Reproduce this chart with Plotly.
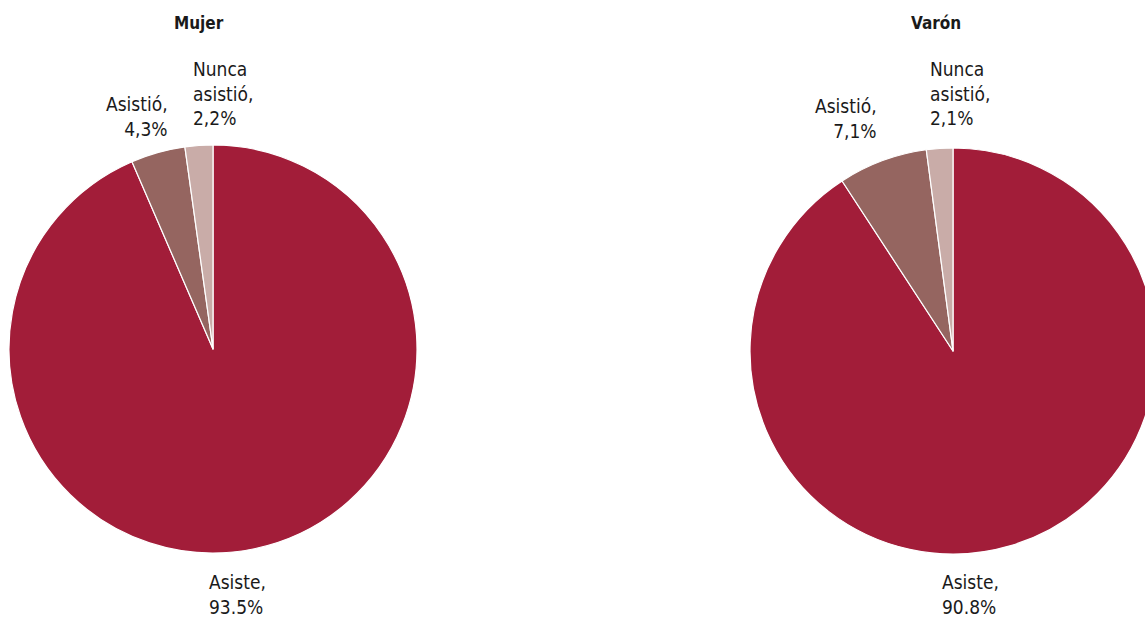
import plotly.graph_objects as go

# ---- data ----
categories = ["Asiste", "Asistió", "Nunca asistió"]
mujer_values = [93.5, 4.3, 2.2]
varon_values = [90.8, 7.1, 2.1]
mujer_labels = ["Asiste,<br>93.5%", "Asistió,<br>4,3%", "Nunca<br>asistió,<br>2,2%"]
varon_labels = ["Asiste,<br>90.8%", "Asistió,<br>7,1%", "Nunca<br>asistió,<br>2,1%"]
titles = ["Mujer", "Varón"]
colors = ["#A21D39", "#956560", "#C9ACA8"]

W, H = 1170, 617
FONT = "DejaVu Sans Condensed, Liberation Sans Narrow, DejaVu Sans, sans-serif"


def px(x):
    return x / W


def py(y):
    return 1 - y / H


fig = go.Figure()
fig.add_trace(go.Pie(
    labels=categories, values=mujer_values, sort=False, direction="clockwise",
    rotation=0, textinfo="none", hoverinfo="label+percent",
    marker=dict(colors=colors, line=dict(color="white", width=1.2)),
    domain=dict(x=[px(9), px(417)], y=[py(553), py(145)]), showlegend=False,
))
fig.add_trace(go.Pie(
    labels=categories, values=varon_values, sort=False, direction="clockwise",
    rotation=0, textinfo="none", hoverinfo="label+percent",
    marker=dict(colors=colors, line=dict(color="white", width=1.2)),
    domain=dict(x=[px(750), px(1156)], y=[py(554), py(148)]), showlegend=False,
))

lab_font = dict(family=FONT, size=19, color="#1a1a1a")
ann = []
# titles
for t, x in zip(titles, [199, 936]):
    ann.append(dict(text=f"<b>{t}</b>", x=px(x), y=py(23), xref="paper", yref="paper",
                    showarrow=False, xanchor="center", yanchor="middle",
                    font=dict(family=FONT, size=17, color="#1a1a1a")))

# label placement (pixels): (x, y_center, xanchor, align)
place_m = [(207, 594, "left", "left"), (170, 116, "right", "right"), (191, 93, "left", "left")]
place_v = [(940, 594, "left", "left"), (879, 119, "right", "right"), (928, 93, "left", "left")]
for labs, places in [(mujer_labels, place_m), (varon_labels, place_v)]:
    for txt, (x, y, xa, al) in zip(labs, places):
        ann.append(dict(text=txt, x=px(x), y=py(y), xref="paper", yref="paper",
                        showarrow=False, xanchor=xa, yanchor="middle", align=al,
                        font=lab_font))

fig.update_layout(
    width=W, height=H, autosize=False,
    margin=dict(l=0, r=0, t=0, b=0),
    paper_bgcolor="white", plot_bgcolor="white",
    annotations=ann,
)

fig.write_html(
    "out.html",
    config={"displayModeBar": False},
    post_script="document.body.style.margin='0';document.body.style.overflow='hidden';"
                "document.documentElement.style.overflow='hidden';",
)
